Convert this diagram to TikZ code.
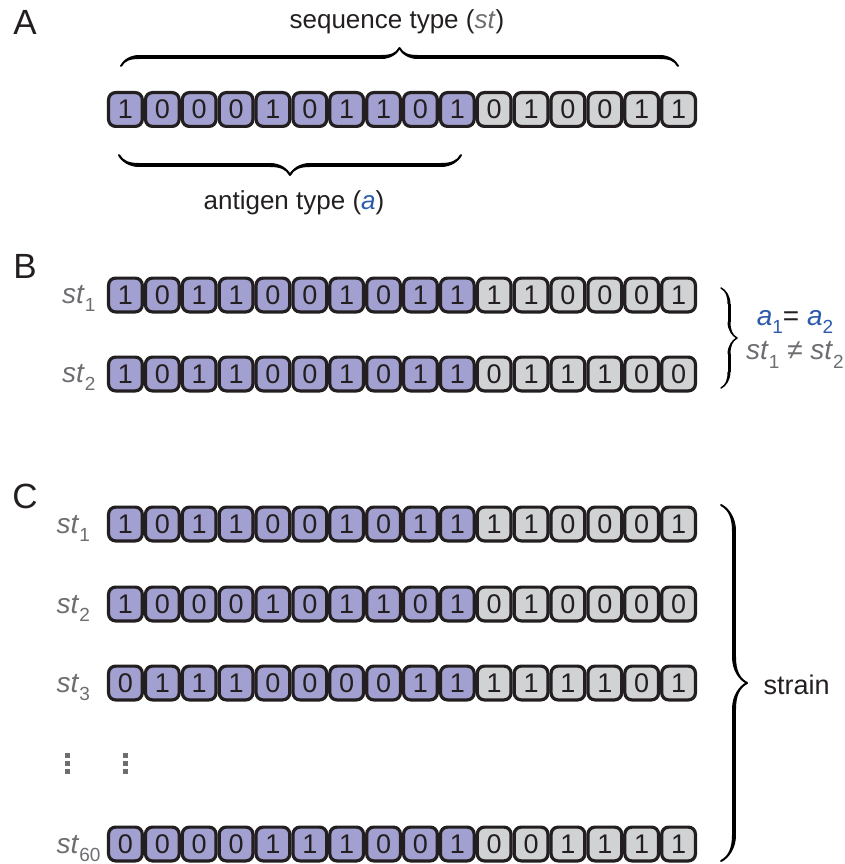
\documentclass[tikz,border=0pt]{standalone}
\usepackage{fontspec}
\setmainfont{Liberation Sans}
\usetikzlibrary{decorations.pathreplacing,calligraphy}
\definecolor{cellA}{RGB}{162,160,208}
\definecolor{cellB}{RGB}{209,210,212}
\definecolor{ablue}{RGB}{43,91,170}
\definecolor{greytext}{RGB}{109,110,113}
\definecolor{ink}{RGB}{35,31,32}
\newcommand\sbs[1]{\raisebox{-0.3em}{\fontsize{19}{19}\selectfont\upshape #1}}
\newcommand\stl[1]{\textit{st}\sbs{#1}}
\newcommand\cellrow[3]{%
  \foreach \d [count=\i] in {#3} {%
    \ifnum\i<11\relax\def\cfill{cellA}\else\def\cfill{cellB}\fi
    \node[cell, fill=\cfill] (#1-\i) at ({107+36.875*(\i-0.5)}, #2) {\d};
  }%
}
\tikzset{
  cell/.style={draw=ink, line width=3.2pt, rounded corners=7pt, inner sep=0pt,
    minimum width=33.7pt, minimum height=33.8pt, text=ink,
    font=\fontsize{27}{27}\selectfont},
  panel/.style={font=\fontsize{35}{35}\selectfont, text=ink},
  lbl/.style={font=\fontsize{26}{26}\selectfont, text=ink},
  stlab/.style={font=\fontsize{28}{28}\selectfont, text=greytext},
  cbrace/.style={decorate, decoration={calligraphic brace, amplitude=#1}, line width=4pt, ink},
}
\begin{document}
\begin{tikzpicture}[x=1pt, y=-1pt]
\useasboundingbox (0,0) rectangle (845,864);
% panel letters
\node[panel] (pA) at (25,22) {A};
\node[panel] (pB) at (25,266) {B};
\node[panel] (pC) at (25,496) {C};
% panel A
\cellrow{A}{109.5}{1,0,0,0,1,0,1,1,0,1,0,1,0,0,1,1}
\node[lbl] (seqt) at (397,22) {sequence type (\textcolor{greytext}{\textit{st}})};
\node[lbl] (antt) at (294,203) {antigen type (\textcolor{ablue}{\textit{a}})};
\coordinate (tbL) at (121,66);
\coordinate (tbR) at (678,66);
\coordinate (bbL) at (119,155);
\coordinate (bbR) at (461,155);
\draw[cbrace=18pt] (tbL) -- (tbR);
\draw[cbrace=20pt] (bbR) -- (bbL);
% panel B
\cellrow{B1}{295}{1,0,1,1,0,0,1,0,1,1,1,1,0,0,0,1}
\cellrow{B2}{374}{1,0,1,1,0,0,1,0,1,1,0,1,1,1,0,0}
\node[stlab, anchor=base east] (Bst1) at (99,303) {\stl{1}};
\node[stlab, anchor=base east] (Bst2) at (99,382) {\stl{2}};
\coordinate (rbT) at (721,288);
\coordinate (rbB) at (721,388);
\draw[cbrace=16pt, line width=3pt] (rbT) -- (rbB);
\node[lbl, font=\fontsize{28}{28}\selectfont] (aeq) at (795,322)
  {\textcolor{ablue}{\textit{a}\sbs{1}}= \textcolor{ablue}{\textit{a}\sbs{2}}};
\node[lbl, font=\fontsize{28}{28}\selectfont, text=greytext] (stneq) at (795,355)
  {\stl{1} ≠ \stl{2}};
% panel C
\cellrow{C1}{524}{1,0,1,1,0,0,1,0,1,1,1,1,0,0,0,1}
\cellrow{C2}{604}{1,0,0,0,1,0,1,1,0,1,0,1,0,0,0,0}
\cellrow{C3}{683}{0,1,1,1,0,0,0,0,1,1,1,1,1,1,0,1}
\cellrow{C60}{844}{0,0,0,0,1,1,1,0,0,1,0,0,1,1,1,1}
\node[stlab, anchor=base west] (Cst1) at (53,533) {\stl{1}};
\node[stlab, anchor=base west] (Cst2) at (53,613) {\stl{2}};
\node[stlab, anchor=base west] (Cst3) at (53,692) {\stl{3}};
\node[stlab, anchor=base west] (Cst60) at (53,853) {\stl{60}};
\foreach \xx in {67,125} \foreach \yy in {755,763,771}
  \fill[greytext] (\xx-2.5,\yy-2.5) rectangle ++(5,5);
\coordinate (sbT) at (721,505);
\coordinate (sbB) at (721,861);
\draw[cbrace=26pt] (sbT) -- (sbB);
\node[lbl, font=\fontsize{27}{27}\selectfont, anchor=west] (strain) at (760,685) {strain};
\end{tikzpicture}
\end{document}
